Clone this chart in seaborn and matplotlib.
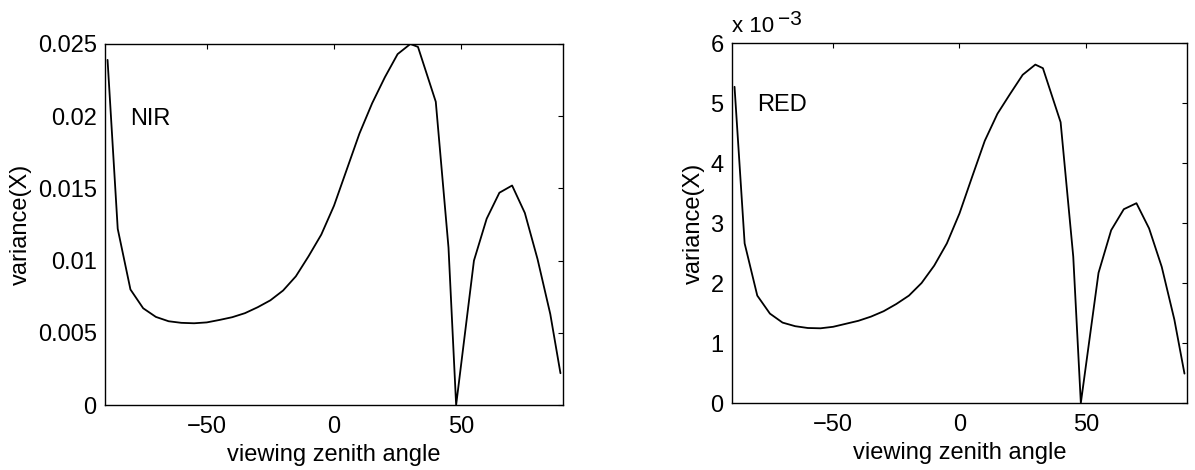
import matplotlib
matplotlib.use('Agg')
import matplotlib.pyplot as plt
import seaborn as sns

# viewing zenith angle (deg), shared by both bands
angles = [-89, -85, -80, -75, -70, -65, -60, -55, -50, -45, -40, -35, -30,
          -25, -20, -15, -10, -5, 0, 5, 10, 15, 20, 25, 30, 33, 40, 45, 48,
          55, 60, 65, 70, 75, 80, 85, 89]

# variance of X, NIR band
nir_var = [0.0239, 0.0122, 0.0080, 0.0067, 0.0061, 0.0058, 0.00569, 0.00566,
           0.00572, 0.00589, 0.00608, 0.00636, 0.00677, 0.00725, 0.00793,
           0.00891, 0.0103, 0.0118, 0.0138, 0.0163, 0.0188, 0.0209, 0.0227,
           0.0243, 0.0250, 0.0248, 0.0210, 0.0109, 0.0, 0.0100, 0.0129,
           0.0147, 0.0152, 0.0133, 0.0101, 0.0063, 0.0022]

# variance of X, RED band (units of 1e-3)
red_var_e3 = [5.27, 2.66, 1.79, 1.49, 1.34, 1.28, 1.25, 1.245, 1.27, 1.32,
              1.37, 1.44, 1.53, 1.65, 1.79, 2.00, 2.29, 2.66, 3.16, 3.77,
              4.37, 4.82, 5.15, 5.47, 5.64, 5.58, 4.68, 2.44, 0.0, 2.17, 2.88,
              3.23, 3.33, 2.91, 2.27, 1.39, 0.49]

nir_ticks = [0, 0.005, 0.01, 0.015, 0.02, 0.025]
nir_ticklabels = ['0', '0.005', '0.01', '0.015', '0.02', '0.025']
red_ticks = [0, 1, 2, 3, 4, 5, 6]
x_ticks = [-50, 0, 50]

sns.set_style('white')
plt.rcParams['font.family'] = ['Liberation Sans', 'DejaVu Sans']
plt.rcParams['text.color'] = 'black'
plt.rcParams['axes.labelcolor'] = 'black'
plt.rcParams['xtick.color'] = 'black'
plt.rcParams['ytick.color'] = 'black'

W, H = 1195, 470
fig = plt.figure(figsize=(W / 100, H / 100), dpi=100)
ax1 = fig.add_axes([105 / W, 65 / H, 458 / W, 361 / H])
ax2 = fig.add_axes([732 / W, 67 / H, 455 / W, 360 / H])

sns.lineplot(x=angles, y=nir_var, ax=ax1, color='black', linewidth=1.3)
sns.lineplot(x=angles, y=red_var_e3, ax=ax2, color='black', linewidth=1.3)

fs = 17
for ax in (ax1, ax2):
    ax.set_xlim(-90, 90)
    ax.set_xticks(x_ticks)
    ax.set_xticklabels(['\u221250', '0', '50'])
    ax.tick_params(axis='both', direction='in', top=True, right=True,
                   length=3.3, width=0.8, labelsize=fs, color='black',
                   labelcolor='black')
    ax.tick_params(axis='x', pad=8)
    ax.tick_params(axis='y', pad=6)
    for sp in ax.spines.values():
        sp.set_color('black')
        sp.set_linewidth(1.0)
    ax.set_xlabel('viewing zenith angle', fontsize=fs, labelpad=4)
    ax.set_ylabel('variance(X)', fontsize=fs, labelpad=4)

ax1.set_ylim(0, 0.025)
ax1.set_yticks(nir_ticks)
ax1.set_yticklabels(nir_ticklabels)
ax1.text(-80, 0.0194, 'NIR', fontsize=fs, va='baseline')

ax2.set_ylim(0, 6)
ax2.set_yticks(red_ticks)
ax2.set_yticklabels([str(t) for t in red_ticks])
ax2.text(-80, 4.87, 'RED', fontsize=fs, va='baseline')

# MATLAB-style exponent above the RED axes
fig.text(732 / W, 1 - 31.7 / H, 'x 10', fontsize=16, va='baseline')
fig.text(778 / W, 1 - 25 / H, '\u22123', fontsize=15, va='baseline')

fig.savefig('out.png', dpi=100)
